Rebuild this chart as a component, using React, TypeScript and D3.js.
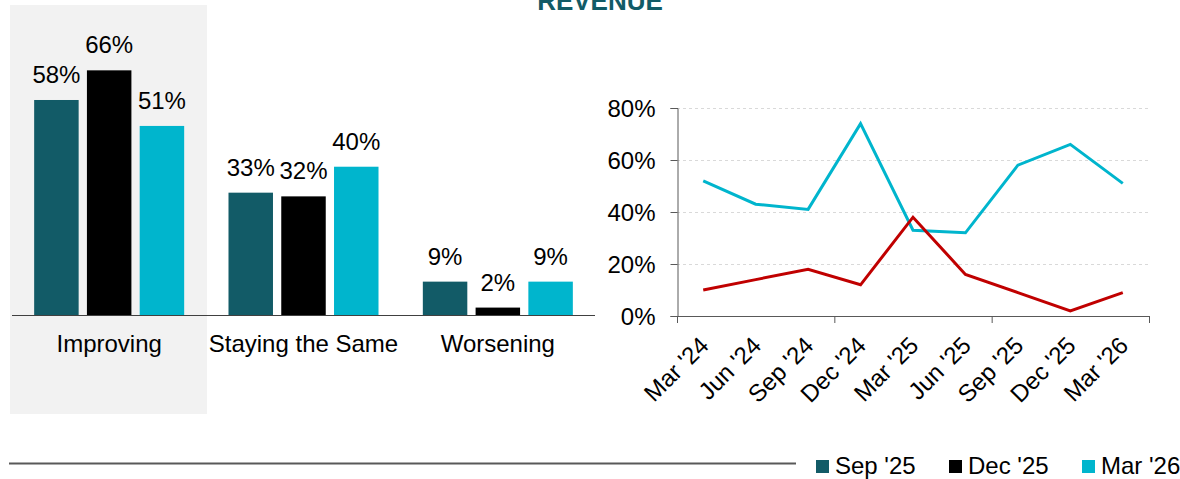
import React, { useEffect, useRef } from "react"
import * as d3 from "d3"

const categories = ["Improving", "Staying the Same", "Worsening"]
const periods = ["Sep '25", "Dec '25", "Mar '26"]
const sepValues = [58, 33, 9]
const decValues = [66, 32, 2]
const marValues = [51, 40, 9]

const quarters = ["Mar '24", "Jun '24", "Sep '24", "Dec '24", "Mar '25", "Jun '25", "Sep '25", "Dec '25", "Mar '26"]
const improvingTrend = [52, 43, 41, 74, 33, 32, 58, 66, 51]
const worseningTrend = [10, 14, 18, 12, 38, 16, 9, 2, 9]
const yTicks = [0, 20, 40, 60, 80]

const teal = "#125b67"
const cyan = "#00b5cd"
const red = "#c00000"
const periodColors = [teal, "#000000", cyan]
const font = "'Liberation Sans', Arial, sans-serif"

export default function App() {
	const ref = useRef<SVGSVGElement>(null)

	useEffect(() => {
		const svg = d3.select(ref.current)
		svg.selectAll("*").remove()

		// title (cut off at the top, like the original)
		svg.append("text")
			.attr("x", 600).attr("y", 10)
			.attr("text-anchor", "middle")
			.attr("font-size", 26).attr("font-weight", "bold")
			.attr("fill", teal)
			.text("REVENUE")

		// ---- bar chart ----
		const base = 315
		const x0 = d3.scaleBand().domain(categories).range([12, 595]).paddingInner(0).paddingOuter(0)
		const x1 = d3.scaleBand().domain(periods).range([0, x0.bandwidth()]).paddingInner(0.157).paddingOuter(0.42)
		const yBar = d3.scaleLinear().domain([0, 70]).range([base, base - 3.707 * 70])

		// highlight behind first category
		svg.append("rect")
			.attr("x", 10).attr("y", 5)
			.attr("width", 197).attr("height", 409)
			.attr("fill", "#f2f2f2")

		const rows = categories.map((c, i) => ({
			cat: c,
			vals: [sepValues[i], decValues[i], marValues[i]],
		}))

		const groups = svg.selectAll("g.grp")
			.data(rows)
			.enter()
			.append("g")
			.attr("class", "grp")
			.attr("transform", d => `translate(${x0(d.cat)},0)`)

		groups.selectAll("rect")
			.data(d => d.vals.map((v, j) => ({ v, p: periods[j], j })))
			.enter()
			.append("rect")
			.attr("x", d => x1(d.p)!)
			.attr("width", x1.bandwidth())
			.attr("y", d => yBar(d.v))
			.attr("height", d => base - yBar(d.v))
			.attr("fill", d => periodColors[d.j])

		groups.selectAll("text")
			.data(d => d.vals.map((v, j) => ({ v, p: periods[j] })))
			.enter()
			.append("text")
			.attr("x", d => x1(d.p)! + x1.bandwidth() / 2)
			.attr("y", d => yBar(d.v) - 17)
			.attr("text-anchor", "middle")
			.attr("font-size", 24)
			.text(d => d.v + "%")

		svg.append("line")
			.attr("x1", 12).attr("x2", 595)
			.attr("y1", base + 0.5).attr("y2", base + 0.5)
			.attr("stroke", "#404040").attr("stroke-width", 1)

		svg.selectAll("text.cat")
			.data(categories)
			.enter()
			.append("text")
			.attr("class", "cat")
			.attr("x", d => x0(d)! + x0.bandwidth() / 2)
			.attr("y", 352)
			.attr("text-anchor", "middle")
			.attr("font-size", 24)
			.text(d => d)

		// ---- line chart ----
		const left = 677, right = 1149, top = 108, bottom = 316
		const xl = d3.scaleBand().domain(quarters).range([left, right])
		const yl = d3.scaleLinear().domain([0, 80]).range([bottom, top])

		const grid = svg.append("g")
		grid.selectAll("line")
			.data(yTicks.filter(t => t > 0))
			.enter()
			.append("line")
			.attr("x1", left).attr("x2", right)
			.attr("y1", d => yl(d) + 0.5).attr("y2", d => yl(d) + 0.5)
			.attr("stroke", "#d9d9d9").attr("stroke-dasharray", "3,3")

		const yAxis = d3.axisLeft(yl).tickValues(yTicks).tickSize(7).tickFormat(d => d + "%")
		const ya = svg.append("g").attr("transform", `translate(${left + 0.5},0)`).call(yAxis)
		ya.select(".domain").attr("stroke", "#595959")
		ya.selectAll(".tick line").attr("stroke", "#595959")
		ya.selectAll(".tick text")
			.attr("font-size", 24).attr("font-family", font).attr("fill", "#000")
			.attr("x", -22).attr("dy", "0.35em")

		// x axis: ticks at every third band boundary
		const xa = svg.append("g")
		xa.append("line")
			.attr("x1", left).attr("x2", right)
			.attr("y1", bottom + 0.5).attr("y2", bottom + 0.5)
			.attr("stroke", "#595959")
		const boundaries = [0, 3, 6, 9].map(i => left + xl.step() * i)
		xa.selectAll("line.tk")
			.data(boundaries)
			.enter()
			.append("line")
			.attr("class", "tk")
			.attr("x1", d => d + 0.5).attr("x2", d => d + 0.5)
			.attr("y1", bottom).attr("y2", bottom + 7)
			.attr("stroke", "#595959")

		xa.selectAll("text")
			.data(quarters)
			.enter()
			.append("text")
			.attr("text-anchor", "end")
			.attr("font-size", 24)
			.attr("dy", "0.35em")
			.attr("transform", d => `translate(${xl(d)! + xl.bandwidth() / 2 + 1},${341}) rotate(-45)`)
			.text(d => d)

		const line = d3.line<number>()
			.x((d, i) => xl(quarters[i])! + xl.bandwidth() / 2)
			.y(d => yl(d))

		svg.append("path")
			.attr("d", line(improvingTrend))
			.attr("fill", "none").attr("stroke", cyan).attr("stroke-width", 3)
		svg.append("path")
			.attr("d", line(worseningTrend))
			.attr("fill", "none").attr("stroke", red).attr("stroke-width", 3)

		// ---- footer ----
		svg.append("line")
			.attr("x1", 9).attr("x2", 796)
			.attr("y1", 463.5).attr("y2", 463.5)
			.attr("stroke", "#595959").attr("stroke-width", 2)

		const legendX = [816, 949, 1082]
		const lg = svg.selectAll("g.lg")
			.data(periods)
			.enter()
			.append("g")
			.attr("class", "lg")
			.attr("transform", (d, i) => `translate(${legendX[i]},0)`)
		lg.append("rect")
			.attr("x", 0).attr("y", 460)
			.attr("width", 13).attr("height", 13)
			.attr("fill", (d, i) => periodColors[i])
		lg.append("text")
			.attr("x", 19).attr("y", 474)
			.attr("font-size", 24)
			.text(d => d)
	}, [])

	return (
		<svg
			ref={ref}
			width={1180}
			height={479}
			style={{ position: "absolute", left: 0, top: 0, fontFamily: font, background: "#fff" }}
		/>
	)
}
